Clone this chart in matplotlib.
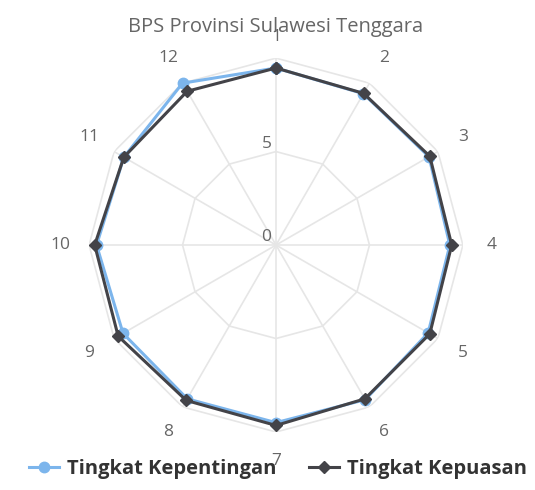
import numpy as np
import matplotlib.pyplot as plt

# dados do grafico radar
kategori = ['1', '2', '3', '4', '5', '6', '7', '8', '9', '10', '11', '12']
kepentingan = [9.47, 9.35, 9.45, 9.3, 9.4, 9.55, 9.5, 9.5, 9.45, 9.6, 9.4, 10.0]
kepuasan = [9.47, 9.37, 9.5, 9.4, 9.5, 9.5, 9.65, 9.6, 9.75, 9.7, 9.4, 9.5]
grid_nilai = [5, 10]
label_radial = ['0', '5']

plt.rcParams['font.family'] = ['Open Sans', 'DejaVu Sans']

n = len(kategori)
sudut = np.linspace(0, 2 * np.pi, n, endpoint=False)
sudut_tutup = np.append(sudut, sudut[0])

fig = plt.figure(figsize=(5.35, 4.9), dpi=100)
ax = fig.add_axes([0.1664, 0.1184, 0.699, 0.763], projection='polar')
ax.set_theta_zero_location('N')
ax.set_theta_direction(-1)
ax.set_ylim(0, 10)
ax.grid(False)
ax.spines['polar'].set_visible(False)
ax.set_xticks([])
ax.set_yticks([])

# grade poligonal
for g in grid_nilai:
    ax.plot(sudut_tutup, [g] * (n + 1), color='#e6e6e6', lw=1.2, zorder=1)
for a in sudut:
    ax.plot([a, a], [0, 10], color='#e6e6e6', lw=1.2, zorder=1)

# series
ax.plot(sudut_tutup, kepentingan + kepentingan[:1], color='#7cb5ec', lw=2.2,
        marker='o', ms=7.5, label='Tingkat Kepentingan', zorder=3, clip_on=False)
ax.plot(sudut_tutup, kepuasan + kepuasan[:1], color='#434348', lw=2.2,
        marker='D', ms=6.5, label='Tingkat Kepuasan', zorder=4, clip_on=False)

# rotulos das categorias
for a, k in zip(sudut, kategori):
    r = 11.15 if k == '1' else 11.55
    ax.text(a, r, k, ha='center', va='center', fontsize=12.5, color='#666666')

# rotulos radiais
for v, t in zip([0, 5], label_radial):
    ax.text(0, v, t + ' ', ha='right', va='bottom', fontsize=12.5, color='#666666')

fig.text(0.515, 0.945, 'BPS Provinsi Sulawesi Tenggara', ha='center', va='center',
         fontsize=14.5, color='#666666')

fig.legend(loc='lower left', bbox_to_anchor=(0.02, -0.015), ncol=2, frameon=False,
           prop={'weight': 'bold', 'size': 14.5}, labelcolor='#333333',
           handlelength=1.5, columnspacing=1.6, handletextpad=0.4)

fig.savefig('out.png', dpi=100, facecolor='white')
